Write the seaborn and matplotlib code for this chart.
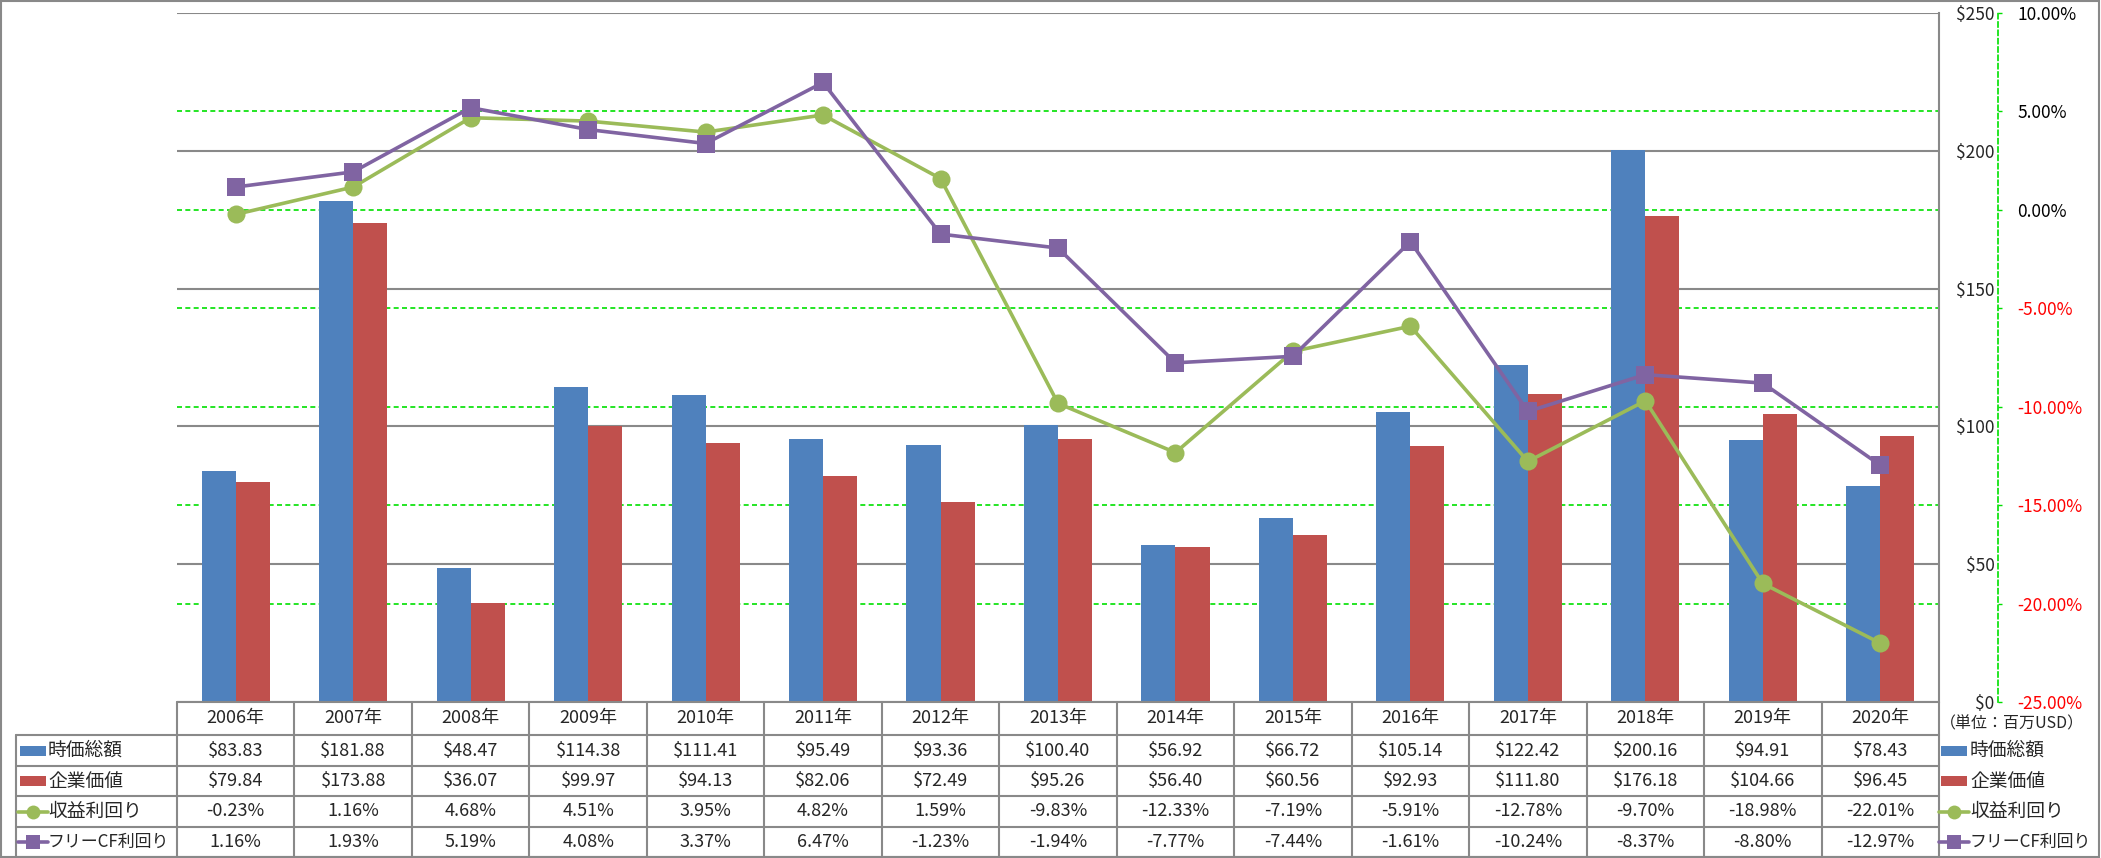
import numpy as np
import pandas as pd
import matplotlib
matplotlib.use("Agg")
import matplotlib.pyplot as plt
import seaborn as sns
from matplotlib.transforms import blended_transform_factory
from matplotlib.lines import Line2D
from matplotlib.patches import Rectangle
from matplotlib.ticker import FuncFormatter

# ---------------- data ----------------
years = ["2006年", "2007年", "2008年", "2009年", "2010年", "2011年", "2012年", "2013年",
         "2014年", "2015年", "2016年", "2017年", "2018年", "2019年", "2020年"]
market_cap = [83.83, 181.88, 48.47, 114.38, 111.41, 95.49, 93.36, 100.40,
              56.92, 66.72, 105.14, 122.42, 200.16, 94.91, 78.43]
enterprise_value = [79.84, 173.88, 36.07, 99.97, 94.13, 82.06, 72.49, 95.26,
                    56.40, 60.56, 92.93, 111.80, 176.18, 104.66, 96.45]
earnings_yield = [-0.23, 1.16, 4.68, 4.51, 3.95, 4.82, 1.59, -9.83,
                  -12.33, -7.19, -5.91, -12.78, -9.70, -18.98, -22.01]
fcf_yield = [1.16, 1.93, 5.19, 4.08, 3.37, 6.47, -1.23, -1.94,
             -7.77, -7.44, -1.61, -10.24, -8.37, -8.80, -12.97]
series_names = ["時価総額", "企業価値", "収益利回り", "フリーCF利回り"]
usd_ticks = [0, 50, 100, 150, 200, 250]
pct_ticks = [-25, -20, -15, -10, -5, 0, 5, 10]
unit_label = "（単位：百万USD）"

BLUE, RED, GREEN, PURPLE = "#4F81BD", "#C0504D", "#9BBB59", "#8064A2"
GRAY = "#898989"
GGRID = "#00E000"

sns.set_style("white")
plt.rcParams["font.family"] = ["Noto Sans CJK JP", "DejaVu Sans"]

W, H = 2101, 858
fig = plt.figure(figsize=(W / 100, H / 100), dpi=100)

def fx(px):
    return px / W

def fy(py):
    return 1 - py / H

L, R, T, B = 177, 1939, 13, 702
ax = fig.add_axes([fx(L), fy(B), fx(R) - fx(L), fy(T) - fy(B)])

df = pd.DataFrame({
    "year": years * 2,
    "series": [series_names[0]] * len(years) + [series_names[1]] * len(years),
    "value": market_cap + enterprise_value,
})
sns.barplot(data=df, x="year", y="value", hue="series", palette=[BLUE, RED],
            width=0.58, saturation=1, ax=ax, legend=False, zorder=2,
            linewidth=0, edgecolor="none")
ax.set_xlim(-0.5, len(years) - 0.5)
ax.set_ylim(0, 250)
ax.set_yticks(usd_ticks)
ax.yaxis.grid(True, color=GRAY, lw=1.5)
ax.set_axisbelow(True)
ax.yaxis.set_major_formatter(FuncFormatter(lambda v, p: f"${v:.0f}"))
ax.tick_params(axis="x", length=0, labelbottom=False)
ax.set_xlabel("")
ax.set_ylabel("")

ax2 = ax.twinx()
# primary $ axis labels sit on the right of the plot area
ax.yaxis.tick_right()
ax.tick_params(axis="y", length=0, pad=40, labelsize=12.5, labelright=True, labelleft=False)
for s in ["left", "top", "bottom"]:
    ax.spines[s].set_visible(False)
ax.spines["right"].set_visible(True)
ax.spines["right"].set_color(GRAY)
ax.spines["right"].set_linewidth(1.5)

ax2.set_ylim(-25, 10)
ax2.set_yticks(pct_ticks)
ax2.yaxis.set_major_formatter(FuncFormatter(lambda v, p: f"{v:.2f}%"))
for s in ["left", "top", "bottom"]:
    ax2.spines[s].set_visible(False)
ax2.spines["right"].set_position(("outward", 42.5))
ax2.spines["right"].set_color(GGRID)
ax2.spines["right"].set_linestyle((0, (3, 2)))
ax2.spines["right"].set_linewidth(1.2)
ax2.tick_params(axis="y", direction="out", length=3, width=1.0, color=GGRID,
                pad=11, labelsize=12.5)

# green dashed gridlines for % axis, drawn behind bars
gtrans = blended_transform_factory(ax.transAxes, ax2.transData)
for v in pct_ticks[1:-1]:
    ax.add_line(Line2D([0, 1], [v, v], transform=gtrans, color=GGRID,
                       lw=1.2, ls=(0, (3, 2)), zorder=0.8))

xs = np.arange(len(years))
sns.lineplot(x=xs, y=earnings_yield, ax=ax2, color=GREEN, lw=2.6, marker="o",
             markersize=13, markeredgewidth=0, zorder=3)
sns.lineplot(x=xs, y=fcf_yield, ax=ax2, color=PURPLE, lw=2.6, marker="s",
             markersize=13, markeredgewidth=0, zorder=4)
ax2.set_xlim(-0.5, len(years) - 0.5)
ax2.set_xlabel("")
ax2.set_ylabel("")
ax2.tick_params(axis="x", length=0, labelbottom=False)
fig.canvas.draw()
for lab in ax2.get_yticklabels():
    try:
        val = float(lab.get_text().replace("%", "").replace("−", "-"))
    except ValueError:
        val = 0
    lab.set_color("#FF0000" if val < 0 else "black")
for lab in ax.get_yticklabels():
    lab.set_horizontalalignment("right")

# ---------------- data table ----------------
tx = blended_transform_factory(ax.transData, fig.transFigure)
row_edges = [702, 735, 766, 796, 827, 857]
row_c = [(row_edges[i] + row_edges[i + 1]) / 2 for i in range(5)]
lkw = dict(color=GRAY, lw=1.5)
for i in range(len(years) + 1):
    fig.add_artist(Line2D([i - 0.5, i - 0.5], [fy(702), fy(857)], transform=tx, **lkw))
for e in row_edges[1:]:
    fig.add_artist(Line2D([fx(16), fx(R)], [fy(e), fy(e)], transform=fig.transFigure, **lkw))
fig.add_artist(Line2D([fx(L), fx(R)], [fy(702), fy(702)], transform=fig.transFigure, **lkw))
fig.add_artist(Line2D([fx(16), fx(16)], [fy(735), fy(857)], transform=fig.transFigure, **lkw))

for i, y in enumerate(years):
    fig.text(i, fy(row_c[0]), y, transform=tx, ha="center", va="center", fontsize=13)
rows = [
    [f"${v:.2f}" for v in market_cap],
    [f"${v:.2f}" for v in enterprise_value],
    [f"{v:.2f}%" for v in earnings_yield],
    [f"{v:.2f}%" for v in fcf_yield],
]
for r, vals in enumerate(rows):
    for i, s in enumerate(vals):
        fig.text(i, fy(row_c[r + 1]), s, transform=tx, ha="center", va="center", fontsize=13)

def legend_key(x0, yc, kind, color, marker=None):
    if kind == "bar":
        fig.add_artist(Rectangle((fx(x0), fy(yc + 5)), fx(26), 10 / H,
                                 transform=fig.transFigure, color=color, lw=0))
    else:
        fig.add_artist(Line2D([fx(x0 - 2), fx(x0 + 28)], [fy(yc), fy(yc)],
                              transform=fig.transFigure, color=color, lw=2.6))
        fig.add_artist(Line2D([fx(x0 + 13)], [fy(yc)], transform=fig.transFigure,
                              color=color, marker=marker, markersize=10,
                              markeredgewidth=0, ls="none"))

keys = [("bar", BLUE, None), ("bar", RED, None), ("line", GREEN, "o"), ("line", PURPLE, "s")]
name_sizes = [13.5, 13.5, 13.5, 12.2]
for r, (kind, col, mk) in enumerate(keys):
    yc = row_c[r + 1]
    legend_key(20, yc, kind, col, mk)
    fig.text(fx(48), fy(yc), series_names[r], ha="left", va="center", fontsize=name_sizes[r])
    legend_key(1941, yc, kind, col, mk)
    fig.text(fx(1970), fy(yc), series_names[r], ha="left", va="center", fontsize=name_sizes[r])

fig.text(fx(2012), fy(724), unit_label, ha="center", va="center", fontsize=11.5)

# outer border
fig.add_artist(Rectangle((fx(1), fy(857)), fx(2098), 856 / H, transform=fig.transFigure,
                         fill=False, edgecolor=GRAY, lw=1.5))

fig.savefig("out.png", dpi=100)
